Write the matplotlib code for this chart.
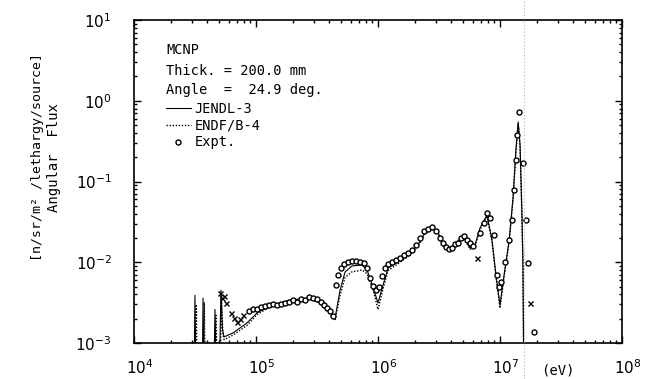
import matplotlib
matplotlib.use("Agg")
import matplotlib.pyplot as plt
from matplotlib.lines import Line2D
from matplotlib.ticker import LogLocator, LogFormatterSciNotation, NullFormatter
from matplotlib.transforms import ScaledTranslation

# ---- calculated angular flux (eV, n/sr/m^2/lethargy/source) ----
energy_jendl = [2.5e4, 3.10e4, 3.16e4, 3.22e4, 3.62e4, 3.68e4, 3.75e4, 4.50e4, 4.61e4, 4.72e4,
                5.05e4, 5.16e4, 5.30e4, 5.47e4, 6.47e4, 8.43e4, 1.02e5, 1.30e5, 1.90e5, 2.77e5,
                3.35e5, 4.05e5, 4.45e5, 4.89e5, 5.37e5, 6.12e5, 7.40e5, 8.13e5, 9.10e5, 1.00e6,
                1.10e6, 1.21e6, 1.46e6, 1.76e6, 2.13e6, 2.43e6, 2.77e6, 3.10e6, 3.41e6, 3.89e6,
                4.44e6, 4.98e6, 5.68e6, 6.24e6, 6.86e6, 7.82e6, 8.60e6, 9.27e6, 1.00e7, 1.08e7,
                1.19e7, 1.28e7, 1.35e7, 1.41e7, 1.46e7, 1.51e7, 1.54e7, 1.57e7, 2.0e7]
flux_jendl = [3e-4, 3e-4, 3.9e-3, 3e-4, 3e-4, 3.6e-3, 3e-4, 3e-4, 2.6e-3, 5e-4,
              8e-4, 4.5e-3, 1.5e-3, 1.19e-3, 1.33e-3, 1.77e-3, 2.36e-3, 2.87e-3, 3.41e-3, 3.60e-3,
              3.22e-3, 2.42e-3, 2.04e-3, 4.53e-3, 7.57e-3, 9.0e-3, 9.25e-3, 8.0e-3, 4.93e-3, 3.13e-3,
              5.22e-3, 8.5e-3, 1.01e-2, 1.23e-2, 1.64e-2, 2.37e-2, 2.66e-2, 2.37e-2, 1.64e-2, 1.42e-2,
              1.78e-2, 2.17e-2, 1.50e-2, 1.64e-2, 2.66e-2, 3.85e-2, 1.89e-2, 6.95e-3, 2.96e-3, 6.95e-3,
              1.89e-2, 6.43e-2, 0.245, 0.546, 0.283, 0.0443, 1.07e-2, 3e-4, 3e-4]

energy_endf = [2.5e4, 3.18e4, 3.24e4, 3.30e4, 3.70e4, 3.77e4, 3.84e4, 4.58e4, 4.70e4, 4.80e4,
               5.10e4, 5.22e4, 5.35e4, 5.47e4, 6.47e4, 8.43e4, 1.02e5, 1.30e5, 1.90e5, 2.77e5,
               3.35e5, 4.05e5, 4.45e5, 4.89e5, 5.37e5, 6.12e5, 7.40e5, 8.13e5, 9.10e5, 1.00e6,
               1.10e6, 1.21e6, 1.46e6, 1.76e6, 2.13e6, 2.43e6, 2.77e6, 3.10e6, 3.41e6, 3.89e6,
               4.44e6, 4.98e6, 5.68e6, 6.24e6, 6.86e6, 7.82e6, 8.60e6, 9.27e6, 1.00e7, 1.08e7,
               1.19e7, 1.28e7, 1.35e7, 1.41e7, 1.46e7, 1.51e7, 1.54e7, 1.57e7, 2.0e7]
flux_endf = [3e-4, 3e-4, 3.0e-3, 3e-4, 3e-4, 3.2e-3, 3e-4, 3e-4, 2.2e-3, 5e-4,
             7e-4, 3.4e-3, 1.3e-3, 1.10e-3, 1.25e-3, 1.65e-3, 2.25e-3, 2.80e-3, 3.35e-3, 3.50e-3,
             3.10e-3, 2.30e-3, 1.95e-3, 3.9e-3, 6.5e-3, 7.6e-3, 8.0e-3, 7.2e-3, 4.6e-3, 2.6e-3,
             4.7e-3, 7.9e-3, 9.6e-3, 1.18e-2, 1.58e-2, 2.25e-2, 2.55e-2, 2.30e-2, 1.58e-2, 1.38e-2,
             1.72e-2, 2.10e-2, 1.45e-2, 1.58e-2, 2.55e-2, 3.70e-2, 1.80e-2, 6.5e-3, 2.7e-3, 6.6e-3,
             1.80e-2, 6.1e-2, 0.23, 0.52, 0.27, 0.042, 1.0e-2, 3e-4, 3e-4]

# ---- measured angular flux ----
energy_expt = [8.76e4, 9.45e4, 1.02e5, 1.10e5, 1.185e5, 1.28e5, 1.38e5, 1.49e5, 1.60e5, 1.73e5,
               1.87e5, 2.01e5, 2.17e5, 2.34e5, 2.52e5, 2.72e5, 2.93e5, 3.16e5, 3.41e5, 3.61e5,
               3.82e5, 4.04e5, 4.28e5, 4.53e5, 4.70e5, 4.98e5, 5.27e5, 5.68e5, 6.12e5, 6.60e5,
               7.12e5, 7.68e5, 8.13e5, 8.60e5, 9.10e5, 9.63e5, 1.02e6, 1.08e6, 1.14e6, 1.21e6,
               1.30e6, 1.40e6, 1.52e6, 1.63e6, 1.76e6, 1.90e6, 2.05e6, 2.21e6, 2.38e6, 2.57e6,
               2.77e6, 2.99e6, 3.22e6, 3.41e6, 3.61e6, 3.82e6, 4.04e6, 4.28e6, 4.53e6, 4.79e6,
               5.07e6, 5.36e6, 5.68e6, 6.01e6, 6.86e6, 7.39e6, 7.82e6, 8.28e6, 8.93e6, 9.45e6,
               9.81e6, 1.02e7, 1.10e7, 1.185e7, 1.25e7, 1.30e7, 1.35e7, 1.38e7, 1.43e7, 1.54e7,
               1.63e7, 1.70e7, 1.90e7]
flux_expt = [2.49e-3, 2.64e-3, 2.64e-3, 2.79e-3, 2.87e-3, 2.96e-3, 3.04e-3, 2.96e-3, 3.04e-3, 3.13e-3,
             3.22e-3, 3.41e-3, 3.22e-3, 3.51e-3, 3.41e-3, 3.71e-3, 3.61e-3, 3.51e-3, 3.22e-3, 2.96e-3,
             2.71e-3, 2.49e-3, 2.16e-3, 5.23e-3, 6.95e-3, 8.49e-3, 9.51e-3, 1.007e-2, 1.036e-2, 1.036e-2,
             1.007e-2, 9.79e-3, 8.49e-3, 6.38e-3, 5.08e-3, 4.53e-3, 4.94e-3, 6.76e-3, 8.49e-3, 9.51e-3,
             1.007e-2, 1.066e-2, 1.129e-2, 1.23e-2, 1.30e-2, 1.42e-2, 1.635e-2, 2.00e-2, 2.44e-2, 2.58e-2,
             2.73e-2, 2.44e-2, 2.00e-2, 1.73e-2, 1.545e-2, 1.46e-2, 1.50e-2, 1.68e-2, 1.73e-2, 2.00e-2,
             2.11e-2, 1.89e-2, 1.73e-2, 1.59e-2, 2.30e-2, 3.06e-2, 4.07e-2, 3.53e-2, 2.18e-2, 6.95e-3,
             4.94e-3, 5.69e-3, 1.007e-2, 1.89e-2, 3.34e-2, 7.85e-2, 0.185, 0.376, 0.726, 0.170,
             3.34e-2, 9.79e-3, 1.37e-3]

energy_expt_x = [5.07e4, 5.26e4, 5.47e4, 5.68e4, 6.24e4, 6.60e4, 6.99e4, 7.39e4, 7.82e4, 6.48e6, 1.76e7]
flux_expt_x = [4.16e-3, 3.61e-3, 3.82e-3, 3.13e-3, 2.35e-3, 2.04e-3, 1.82e-3, 1.98e-3, 2.22e-3, 1.13e-2, 3.13e-3]

x_range = (1e4, 1e8)
y_range = (1e-3, 1e1)

header_lines = ["MCNP", "Thick. = 200.0 mm", "Angle  =  24.9 deg."]
series_names = ["JENDL-3", "ENDF/B-4", "Expt."]
ylabel_lines = ["Angular  Flux", "[n/sr/m\u00b2 /lethargy/source]"]

mono = "DejaVu Sans Mono"
W, H = 645, 379
fig = plt.figure(figsize=(W / 100, H / 100), dpi=100)
ax = fig.add_axes([134 / W, 1 - 343 / H, 488 / W, 323 / H])

ax.plot(energy_jendl, flux_jendl, color="black", lw=0.8, ls="-", label=series_names[0])
ax.plot(energy_endf, flux_endf, color="black", lw=1.0, ls=(0, (1, 1.2)), label=series_names[1])
ax.plot(energy_expt, flux_expt, ls="none", marker="o", ms=3.6, mfc="white", mec="black",
        mew=1.0, label=series_names[2])
ax.plot(energy_expt_x, flux_expt_x, ls="none", marker="x", ms=3.6, color="black", mew=1.0)

ax.set_xscale("log")
ax.set_yscale("log")
ax.set_xlim(*x_range)
ax.set_ylim(*y_range)

for a in (ax.xaxis, ax.yaxis):
    a.set_major_locator(LogLocator(base=10, numticks=10))
    a.set_minor_locator(LogLocator(base=10, subs=range(2, 10), numticks=20))
    a.set_major_formatter(LogFormatterSciNotation())
    a.set_minor_formatter(NullFormatter())

ax.tick_params(which="both", direction="in", top=True, right=True, width=1.0, color="black")
ax.tick_params(which="major", length=5)
ax.tick_params(which="minor", length=2.5)
ax.tick_params(axis="y", which="major", pad=16, labelsize=11)
ax.tick_params(axis="x", which="major", pad=11, labelsize=11)
for s in ax.spines.values():
    s.set_linewidth(1.2)

# keep the mantissa "10" centred under each tick
for lab in ax.get_xticklabels():
    lab.set_transform(lab.get_transform() + ScaledTranslation(4 / 72, 0, fig.dpi_scale_trans))

# two-line vertical axis title
fig.text(54 / W, 1 - 158 / H, ylabel_lines[0], rotation=90, ha="center", va="center",
         fontsize=10, family=mono)
fig.text(38 / W, 1 - 157 / H, ylabel_lines[1], rotation=90, ha="center", va="center",
         fontsize=9.5, family=mono)

fig.text(558 / W, 1 - 370 / H, "(eV)", ha="center", va="center", fontsize=10, family=mono)

ypix = [50, 71, 90]
for txt, yp in zip(header_lines, ypix):
    fig.text(166 / W, 1 - yp / H, txt, ha="left", va="center", fontsize=9.8, family=mono)

leg = ax.legend(loc="upper left", bbox_to_anchor=((166 - 134) / 488, 1 - (102 - 20) / 323),
                frameon=False, prop={"family": mono, "size": 9.8},
                handlelength=1.8, handletextpad=0.3, labelspacing=0.2, borderpad=0.0,
                borderaxespad=0.0)

# faint fold line in the scanned sheet
fig.add_artist(Line2D([524 / W, 524 / W], [0, 1], transform=fig.transFigure,
                      color="0.72", lw=0.8, ls=(0, (1, 2))))

fig.savefig("out.png", dpi=100)
